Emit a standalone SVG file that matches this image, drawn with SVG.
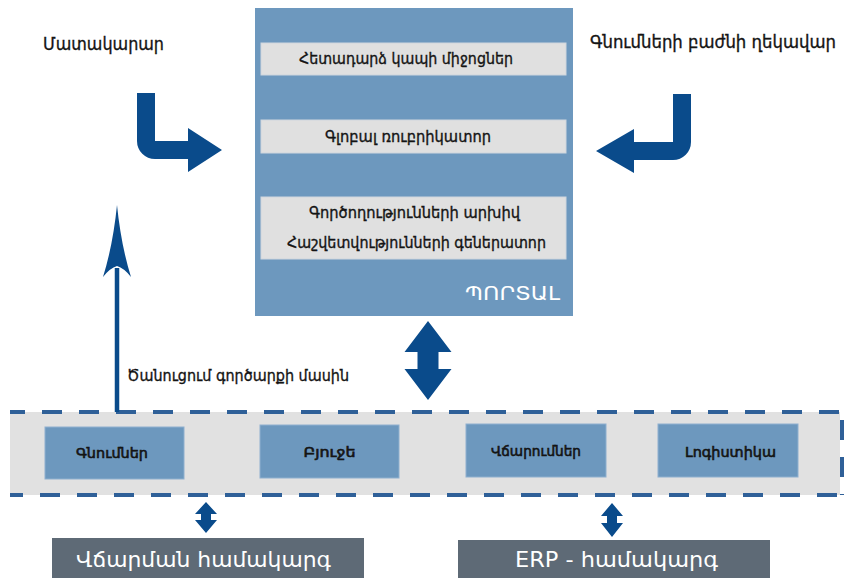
<svg xmlns="http://www.w3.org/2000/svg" width="847" height="578" viewBox="0 0 847 578">
  <defs>
    <style>
      .t { font-family: "DejaVu Sans", sans-serif; fill: #141414; stroke: #141414; stroke-width: 0.35px; }
      .lbl { font-size: 18px; }
      .bar-t { font-size: 15px; }
      .mod-t { font-size: 14px; stroke-width: 0.6px; }
      .sys-t { font-size: 21px; fill: #ffffff; stroke: none; }
      .portal { fill: #6d98be; }
      .bar { fill: #e0e0e0; stroke: #cfd6de; stroke-width: 1; }
      .mod { fill: #6d98be; stroke: #8fb0cf; stroke-width: 1; }
      .sys { fill: #5e6a76; }
      .arrow { fill: #0a4b8b; }
      .dash { fill: none; stroke: #2f6098; stroke-width: 4; stroke-dasharray: 20 17; }
    </style>
  </defs>

  <!-- Portal block -->
  <g id="portal">
    <rect class="portal" x="255" y="8" width="318" height="308"/>
    <rect class="bar" x="261" y="43" width="305" height="32"/>
    <text class="t bar-t" x="406" y="64" text-anchor="middle" textLength="214" lengthAdjust="spacingAndGlyphs">Հետադարձ կապի միջոցներ</text>
    <rect class="bar" x="261" y="120" width="305" height="33"/>
    <text class="t bar-t" x="408" y="142" text-anchor="middle" textLength="166" lengthAdjust="spacingAndGlyphs">Գլոբալ ռուբրիկատոր</text>
    <rect class="bar" x="261" y="197" width="305" height="62"/>
    <text class="t bar-t" x="414.5" y="218" text-anchor="middle" textLength="211" lengthAdjust="spacingAndGlyphs">Գործողությունների արխիվ</text>
    <text class="t bar-t" x="416.5" y="248" text-anchor="middle" textLength="259" lengthAdjust="spacingAndGlyphs">Հաշվետվությունների գեներատոր</text>
    <text class="t" x="465" y="300" font-size="20" style="fill:#ffffff;stroke:none" textLength="95" lengthAdjust="spacingAndGlyphs">ՊՈՐՏԱԼ</text>
  </g>

  <!-- Actors -->
  <g id="supplier">
    <text class="t lbl" x="43" y="50" textLength="121" lengthAdjust="spacingAndGlyphs">Մատակարար</text>
  </g>
  <g id="purchasing-head">
    <text class="t lbl" x="590" y="48" font-size="17" style="font-size:17px" textLength="246" lengthAdjust="spacingAndGlyphs">Գնումների բաժնի ղեկավար</text>
  </g>

  <!-- Module strip -->
  <g id="modules">
    <rect x="10" y="412" width="830" height="83" fill="#e1e1e1"/>
    <path class="dash" d="M10,412 H842" stroke-dashoffset="5"/>
    <path class="dash" d="M10,495 H842" stroke-dashoffset="7"/>
    <path class="dash" d="M842,420 V495"/>
  </g>
  <g id="mod-purchases">
    <rect class="mod" x="45" y="427" width="139" height="52"/>
    <text class="t mod-t" x="112" y="458" text-anchor="middle" textLength="72" lengthAdjust="spacingAndGlyphs">Գնումներ</text>
  </g>
  <g id="mod-budget">
    <rect class="mod" x="260" y="425" width="139" height="53"/>
    <text class="t mod-t" x="329.5" y="457" text-anchor="middle" textLength="52" lengthAdjust="spacingAndGlyphs">Բյուջե</text>
  </g>
  <g id="mod-payments">
    <rect class="mod" x="466" y="424" width="140" height="53"/>
    <text class="t mod-t" x="536" y="456" text-anchor="middle" textLength="90" lengthAdjust="spacingAndGlyphs">Վճարումներ</text>
  </g>
  <g id="mod-logistics">
    <rect class="mod" x="658" y="424" width="140" height="53"/>
    <text class="t mod-t" x="730.5" y="457" text-anchor="middle" textLength="91" lengthAdjust="spacingAndGlyphs">Լոգիստիկա</text>
  </g>

  <!-- External systems -->
  <g id="payment-system">
    <rect class="sys" x="52" y="538" width="312" height="40"/>
    <text class="t sys-t" x="203.5" y="567" text-anchor="middle" textLength="255" lengthAdjust="spacingAndGlyphs">Վճարման համակարգ</text>
  </g>
  <g id="erp-system">
    <rect class="sys" x="458" y="540" width="312" height="38"/>
    <text class="t sys-t" x="616.5" y="567" text-anchor="middle" textLength="203" lengthAdjust="spacingAndGlyphs">ERP - համակարգ</text>
  </g>

  <!-- Connectors -->
  <g id="connectors">
    <!-- supplier into portal -->
    <path class="arrow" d="M137,93 H155 V141 H188 V128 L222,150 L188,172 V159 H155 A18,18 0 0 1 137,141 Z"/>
    <!-- purchasing head into portal -->
    <path class="arrow" d="M691,94 V142 A18,18 0 0 1 673,160 H634 V173 L596,151 L634,129 V142 H673 V94 Z"/>
    <!-- notification up from module strip -->
    <line x1="117" y1="412" x2="117" y2="268" stroke="#0a4b8b" stroke-width="4.5"/>
    <path class="arrow" d="M117,205 Q121,245 131,277 Q124,268 117,266 Q110,268 103,277 Q113,245 117,205 Z"/>
    <text class="t" x="127" y="381" font-size="16" textLength="222" lengthAdjust="spacingAndGlyphs">Ծանուցում գործարքի մասին</text>
    <!-- portal <-> modules -->
    <path class="arrow" d="M428,321 L451.5,352 H438.5 V369 H451.5 L428,400 L404.5,369 H417.5 V352 H404.5 Z"/>
    <!-- modules <-> payment system -->
    <path class="arrow" d="M206,502 L217,514 H211 V520 H217 L206,533 L195,520 H201 V514 H195 Z"/>
    <!-- modules <-> ERP -->
    <path class="arrow" d="M612,503 L623,516 H617 V523 H623 L612,537 L601,523 H607 V516 H601 Z"/>
  </g>
</svg>
